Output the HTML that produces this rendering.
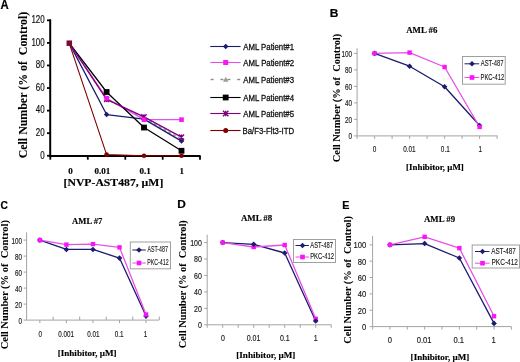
<!DOCTYPE html>
<html><head><meta charset="utf-8"><style>
html,body{margin:0;padding:0;background:#fff;}
body{width:520px;height:362px;overflow:hidden;}
svg{display:block;}
</style></head><body>
<svg width="520" height="362" viewBox="0 0 520 362">
<defs><filter id="b" x="0" y="0" width="100%" height="100%"><feGaussianBlur stdDeviation="0.4"/></filter></defs>
<rect width="520" height="362" fill="#fff"/>
<g filter="url(#b)">
<rect width="520" height="362" fill="#fff"/>
<text transform="translate(0.52 8.60) scale(0.9453 1)" font-family='"Liberation Sans", sans-serif' font-size="12" font-weight="bold" fill="#000" stroke="#000" stroke-width="0.2" xml:space="preserve" >A</text>
<line x1="50.20" y1="19.30" x2="50.20" y2="156.60" stroke="#000000" stroke-width="2" />
<line x1="49.20" y1="155.95" x2="200.60" y2="155.95" stroke="#000000" stroke-width="2" />
<line x1="47.00" y1="155.75" x2="50.20" y2="155.75" stroke="#000000" stroke-width="1.8" />
<text transform="translate(40.25 158.50) scale(0.7974 1)" font-family='"Liberation Sans", sans-serif' font-size="10.0" font-weight="normal" fill="#111" stroke="#111" stroke-width="0.18" xml:space="preserve" >0</text>
<line x1="47.00" y1="133.18" x2="50.20" y2="133.18" stroke="#000000" stroke-width="1.8" />
<text transform="translate(35.83 135.93) scale(0.7974 1)" font-family='"Liberation Sans", sans-serif' font-size="10.0" font-weight="normal" fill="#111" stroke="#111" stroke-width="0.18" xml:space="preserve" >20</text>
<line x1="47.00" y1="110.61" x2="50.20" y2="110.61" stroke="#000000" stroke-width="1.8" />
<text transform="translate(35.83 113.36) scale(0.7974 1)" font-family='"Liberation Sans", sans-serif' font-size="10.0" font-weight="normal" fill="#111" stroke="#111" stroke-width="0.18" xml:space="preserve" >40</text>
<line x1="47.00" y1="88.04" x2="50.20" y2="88.04" stroke="#000000" stroke-width="1.8" />
<text transform="translate(35.83 90.79) scale(0.7974 1)" font-family='"Liberation Sans", sans-serif' font-size="10.0" font-weight="normal" fill="#111" stroke="#111" stroke-width="0.18" xml:space="preserve" >60</text>
<line x1="47.00" y1="65.47" x2="50.20" y2="65.47" stroke="#000000" stroke-width="1.8" />
<text transform="translate(35.83 68.22) scale(0.7974 1)" font-family='"Liberation Sans", sans-serif' font-size="10.0" font-weight="normal" fill="#111" stroke="#111" stroke-width="0.18" xml:space="preserve" >80</text>
<line x1="47.00" y1="42.90" x2="50.20" y2="42.90" stroke="#000000" stroke-width="1.8" />
<text transform="translate(31.40 45.65) scale(0.7974 1)" font-family='"Liberation Sans", sans-serif' font-size="10.0" font-weight="normal" fill="#111" stroke="#111" stroke-width="0.18" xml:space="preserve" >100</text>
<line x1="47.00" y1="20.33" x2="50.20" y2="20.33" stroke="#000000" stroke-width="1.8" />
<text transform="translate(31.40 23.08) scale(0.7974 1)" font-family='"Liberation Sans", sans-serif' font-size="10.0" font-weight="normal" fill="#111" stroke="#111" stroke-width="0.18" xml:space="preserve" >120</text>
<line x1="50.30" y1="155.95" x2="50.30" y2="159.70" stroke="#000000" stroke-width="1.8" />
<line x1="87.80" y1="155.95" x2="87.80" y2="159.70" stroke="#000000" stroke-width="1.8" />
<line x1="125.30" y1="155.95" x2="125.30" y2="159.70" stroke="#000000" stroke-width="1.8" />
<line x1="162.70" y1="155.95" x2="162.70" y2="159.70" stroke="#000000" stroke-width="1.8" />
<line x1="200.00" y1="155.95" x2="200.00" y2="159.70" stroke="#000000" stroke-width="1.8" />
<text transform="translate(68.34 173.60) scale(1.1890 1)" font-family='"Liberation Serif", serif' font-size="7.6" font-weight="bold" fill="#000" stroke="#000" stroke-width="0.15" xml:space="preserve" >0</text>
<text transform="translate(94.44 173.60) scale(1.1890 1)" font-family='"Liberation Serif", serif' font-size="7.6" font-weight="bold" fill="#000" stroke="#000" stroke-width="0.15" xml:space="preserve" >0.01</text>
<text transform="translate(139.40 173.60) scale(1.1890 1)" font-family='"Liberation Serif", serif' font-size="7.6" font-weight="bold" fill="#000" stroke="#000" stroke-width="0.15" xml:space="preserve" >0.1</text>
<text transform="translate(179.41 173.60) scale(1.1890 1)" font-family='"Liberation Serif", serif' font-size="7.6" font-weight="bold" fill="#000" stroke="#000" stroke-width="0.15" xml:space="preserve" >1</text>
<text transform="translate(63.52 185.60) scale(1.0655 1)" font-family='"Liberation Serif", serif' font-size="11" font-weight="bold" fill="#000" stroke="#000" stroke-width="0.15" xml:space="preserve" >[NVP-AST487, µM]</text>
<text x="27.30" y="158.29" font-family='"Liberation Serif", serif' font-size="11.7" font-weight="bold" fill="#000" stroke="#000" stroke-width="0.05" textLength="146.51" lengthAdjust="spacingAndGlyphs" transform="rotate(-90 27.30 158.29)" xml:space="preserve">Cell Number (% of  Control)</text>
<polyline points="69.10,42.90 106.60,99.32 144.00,117.95 181.50,139.39" fill="none" stroke="#9a9a9a" stroke-width="1.3" stroke-linejoin="round" stroke-dasharray="3,2.5"/>
<polyline points="69.10,42.90 106.60,114.56 144.00,119.07 181.50,141.08" fill="none" stroke="#1a1a70" stroke-width="1.3" stroke-linejoin="round" />
<polyline points="69.10,42.90 106.60,98.20 144.00,119.64 181.50,119.64" fill="none" stroke="#e850e8" stroke-width="1.3" stroke-linejoin="round" />
<polyline points="69.10,42.90 106.60,91.99 144.00,127.54 181.50,150.78" fill="none" stroke="#000000" stroke-width="1.3" stroke-linejoin="round" />
<polyline points="69.10,42.90 106.60,99.32 144.00,116.82 181.50,137.13" fill="none" stroke="#800080" stroke-width="1.3" stroke-linejoin="round" />
<polyline points="69.10,42.90 106.60,154.62 144.00,155.75 181.50,155.75" fill="none" stroke="#800000" stroke-width="1.1" stroke-linejoin="round" />
<path d="M106.60,96.57 L109.35,101.52 L103.85,101.52Z" fill="#9a9a9a"/>
<path d="M144.00,115.20 L146.75,120.15 L141.25,120.15Z" fill="#9a9a9a"/>
<path d="M181.50,136.64 L184.25,141.59 L178.75,141.59Z" fill="#9a9a9a"/>
<path d="M106.60,111.81 L109.35,114.56 L106.60,117.31 L103.85,114.56Z" fill="#1a1a70"/>
<path d="M144.00,116.32 L146.75,119.07 L144.00,121.82 L141.25,119.07Z" fill="#1a1a70"/>
<path d="M181.50,138.33 L184.25,141.08 L181.50,143.83 L178.75,141.08Z" fill="#1a1a70"/>
<rect x="103.70" y="89.09" width="5.80" height="5.80" fill="#000000"/>
<rect x="141.10" y="124.64" width="5.80" height="5.80" fill="#000000"/>
<rect x="178.60" y="147.88" width="5.80" height="5.80" fill="#000000"/>
<path d="M104.00,96.72 L109.20,101.92 M109.20,96.72 L104.00,101.92 M106.60,96.72 L106.60,101.92" stroke="#800080" stroke-width="1.3" fill="none"/>
<path d="M141.40,114.22 L146.60,119.42 M146.60,114.22 L141.40,119.42 M144.00,114.22 L144.00,119.42" stroke="#800080" stroke-width="1.3" fill="none"/>
<path d="M178.90,134.53 L184.10,139.73 M184.10,134.53 L178.90,139.73 M181.50,134.53 L181.50,139.73" stroke="#800080" stroke-width="1.3" fill="none"/>
<rect x="104.30" y="95.90" width="4.60" height="4.60" fill="#f814f8"/>
<rect x="141.70" y="117.34" width="4.60" height="4.60" fill="#f814f8"/>
<rect x="179.20" y="117.34" width="4.60" height="4.60" fill="#f814f8"/>
<circle cx="106.60" cy="154.62" r="2.30" fill="#800000"/>
<circle cx="144.00" cy="155.75" r="2.30" fill="#800000"/>
<circle cx="181.50" cy="155.75" r="2.30" fill="#800000"/>
<rect x="66.55" y="40.45" width="5.50" height="5.50" fill="#7a0a2a"/>
<line x1="210.30" y1="46.50" x2="240.60" y2="46.50" stroke="#1a1a70" stroke-width="1.1" />
<path d="M225.70,43.70 L228.50,46.50 L225.70,49.30 L222.90,46.50Z" fill="#1a1a70"/>
<text transform="translate(243.20 49.60) scale(0.8683 1)" font-family='"Liberation Sans", sans-serif' font-size="9.0" font-weight="normal" fill="#111" stroke="#111" stroke-width="0.3" xml:space="preserve" >AML Patient#1</text>
<line x1="210.30" y1="62.50" x2="240.60" y2="62.50" stroke="#e850e8" stroke-width="1.1" />
<rect x="223.20" y="60.00" width="5.00" height="5.00" fill="#f814f8"/>
<text transform="translate(243.20 65.60) scale(0.8690 1)" font-family='"Liberation Sans", sans-serif' font-size="9.0" font-weight="normal" fill="#111" stroke="#111" stroke-width="0.3" xml:space="preserve" >AML Patient#2</text>
<line x1="210.60" y1="79.50" x2="213.60" y2="79.50" stroke="#8a8a8a" stroke-width="1.4" />
<line x1="220.40" y1="79.50" x2="223.40" y2="79.50" stroke="#8a8a8a" stroke-width="1.4" />
<line x1="227.40" y1="79.50" x2="230.40" y2="79.50" stroke="#8a8a8a" stroke-width="1.4" />
<line x1="237.20" y1="79.50" x2="240.20" y2="79.50" stroke="#8a8a8a" stroke-width="1.4" />
<path d="M225.70,76.80 L228.40,81.66 L223.00,81.66Z" fill="#9a9a9a"/>
<text transform="translate(243.20 82.60) scale(0.8676 1)" font-family='"Liberation Sans", sans-serif' font-size="9.0" font-weight="normal" fill="#111" stroke="#111" stroke-width="0.3" xml:space="preserve" >AML Patient#3</text>
<line x1="210.30" y1="97.50" x2="240.60" y2="97.50" stroke="#000000" stroke-width="1.1" />
<rect x="222.80" y="94.60" width="5.80" height="5.80" fill="#000000"/>
<text transform="translate(243.20 100.60) scale(0.8663 1)" font-family='"Liberation Sans", sans-serif' font-size="9.0" font-weight="normal" fill="#111" stroke="#111" stroke-width="0.3" xml:space="preserve" >AML Patient#4</text>
<line x1="210.30" y1="113.50" x2="240.60" y2="113.50" stroke="#800080" stroke-width="1.1" />
<path d="M222.95,110.75 L228.45,116.25 M228.45,110.75 L222.95,116.25 M225.70,110.75 L225.70,116.25" stroke="#800080" stroke-width="1.3" fill="none"/>
<text transform="translate(243.20 116.60) scale(0.8676 1)" font-family='"Liberation Sans", sans-serif' font-size="9.0" font-weight="normal" fill="#111" stroke="#111" stroke-width="0.3" xml:space="preserve" >AML Patient#5</text>
<line x1="210.30" y1="130.50" x2="240.60" y2="130.50" stroke="#800000" stroke-width="1.1" />
<circle cx="225.70" cy="130.50" r="2.50" fill="#800000"/>
<text transform="translate(242.58 133.60) scale(0.8670 1)" font-family='"Liberation Sans", sans-serif' font-size="9.0" font-weight="normal" fill="#111" stroke="#111" stroke-width="0.3" xml:space="preserve" >Ba/F3-Flt3-ITD</text>
<text transform="translate(329.82 17.20) scale(1.0879 1)" font-family='"Liberation Sans", sans-serif' font-size="11" font-weight="bold" fill="#000" stroke="#000" stroke-width="0.2" xml:space="preserve" >B</text>
<text transform="translate(406.21 33.30) scale(0.9624 1)" font-family='"Liberation Serif", serif' font-size="9.2" font-weight="bold" fill="#000" stroke="#000" stroke-width="0.15" xml:space="preserve" >AML #6</text>
<line x1="357.10" y1="48.30" x2="357.10" y2="135.90" stroke="#a4a4a4" stroke-width="1" />
<line x1="357.10" y1="135.90" x2="497.60" y2="135.90" stroke="#a4a4a4" stroke-width="1" />
<line x1="354.10" y1="135.90" x2="357.10" y2="135.90" stroke="#a4a4a4" stroke-width="1" />
<text transform="translate(348.57 139.35) scale(0.6600 1)" font-family='"Liberation Sans", sans-serif' font-size="9.7" font-weight="normal" fill="#1a1a1a" stroke="#1a1a1a" stroke-width="0.18" xml:space="preserve" >0</text>
<line x1="354.10" y1="119.40" x2="357.10" y2="119.40" stroke="#a4a4a4" stroke-width="1" />
<text transform="translate(345.02 122.85) scale(0.6600 1)" font-family='"Liberation Sans", sans-serif' font-size="9.7" font-weight="normal" fill="#1a1a1a" stroke="#1a1a1a" stroke-width="0.18" xml:space="preserve" >20</text>
<line x1="354.10" y1="102.90" x2="357.10" y2="102.90" stroke="#a4a4a4" stroke-width="1" />
<text transform="translate(345.02 106.35) scale(0.6600 1)" font-family='"Liberation Sans", sans-serif' font-size="9.7" font-weight="normal" fill="#1a1a1a" stroke="#1a1a1a" stroke-width="0.18" xml:space="preserve" >40</text>
<line x1="354.10" y1="86.40" x2="357.10" y2="86.40" stroke="#a4a4a4" stroke-width="1" />
<text transform="translate(345.02 89.85) scale(0.6600 1)" font-family='"Liberation Sans", sans-serif' font-size="9.7" font-weight="normal" fill="#1a1a1a" stroke="#1a1a1a" stroke-width="0.18" xml:space="preserve" >60</text>
<line x1="354.10" y1="69.90" x2="357.10" y2="69.90" stroke="#a4a4a4" stroke-width="1" />
<text transform="translate(345.02 73.35) scale(0.6600 1)" font-family='"Liberation Sans", sans-serif' font-size="9.7" font-weight="normal" fill="#1a1a1a" stroke="#1a1a1a" stroke-width="0.18" xml:space="preserve" >80</text>
<line x1="354.10" y1="53.40" x2="357.10" y2="53.40" stroke="#a4a4a4" stroke-width="1" />
<text transform="translate(341.46 56.85) scale(0.6600 1)" font-family='"Liberation Sans", sans-serif' font-size="9.7" font-weight="normal" fill="#1a1a1a" stroke="#1a1a1a" stroke-width="0.18" xml:space="preserve" >100</text>
<line x1="357.10" y1="135.90" x2="357.10" y2="138.90" stroke="#a4a4a4" stroke-width="1" />
<line x1="374.60" y1="135.90" x2="374.60" y2="138.90" stroke="#a4a4a4" stroke-width="1" />
<line x1="392.10" y1="135.90" x2="392.10" y2="138.90" stroke="#a4a4a4" stroke-width="1" />
<line x1="409.60" y1="135.90" x2="409.60" y2="138.90" stroke="#a4a4a4" stroke-width="1" />
<line x1="427.10" y1="135.90" x2="427.10" y2="138.90" stroke="#a4a4a4" stroke-width="1" />
<line x1="444.60" y1="135.90" x2="444.60" y2="138.90" stroke="#a4a4a4" stroke-width="1" />
<line x1="462.10" y1="135.90" x2="462.10" y2="138.90" stroke="#a4a4a4" stroke-width="1" />
<line x1="479.60" y1="135.90" x2="479.60" y2="138.90" stroke="#a4a4a4" stroke-width="1" />
<line x1="497.10" y1="135.90" x2="497.10" y2="138.90" stroke="#a4a4a4" stroke-width="1" />
<text transform="translate(372.81 152.10) scale(0.6600 1)" font-family='"Liberation Sans", sans-serif' font-size="9.7" font-weight="normal" fill="#1a1a1a" stroke="#1a1a1a" stroke-width="0.18" xml:space="preserve" >0</text>
<text transform="translate(403.19 152.10) scale(0.6600 1)" font-family='"Liberation Sans", sans-serif' font-size="9.7" font-weight="normal" fill="#1a1a1a" stroke="#1a1a1a" stroke-width="0.18" xml:space="preserve" >0.01</text>
<text transform="translate(440.87 152.10) scale(0.6600 1)" font-family='"Liberation Sans", sans-serif' font-size="9.7" font-weight="normal" fill="#1a1a1a" stroke="#1a1a1a" stroke-width="0.18" xml:space="preserve" >0.1</text>
<text transform="translate(478.53 152.10) scale(0.6600 1)" font-family='"Liberation Sans", sans-serif' font-size="9.7" font-weight="normal" fill="#1a1a1a" stroke="#1a1a1a" stroke-width="0.18" xml:space="preserve" >1</text>
<text transform="translate(406.03 170.00) scale(0.9711 1)" font-family='"Liberation Serif", serif' font-size="9.2" font-weight="bold" fill="#000" stroke="#000" stroke-width="0.15" xml:space="preserve" >[Inhibitor, µM]</text>
<text x="339.80" y="162.22" font-family='"Liberation Serif", serif' font-size="9.4" font-weight="bold" fill="#000" stroke="#000" stroke-width="0.05" textLength="128.47" lengthAdjust="spacingAndGlyphs" transform="rotate(-90 339.80 162.22)" xml:space="preserve">Cell Number (% of  Control)</text>
<polyline points="374.60,53.40 409.60,66.19 444.60,86.81 479.60,125.51" fill="none" stroke="#1a1a70" stroke-width="1.3" stroke-linejoin="round" />
<polyline points="374.60,53.40 409.60,52.58 444.60,67.01 479.60,126.99" fill="none" stroke="#e850e8" stroke-width="1.3" stroke-linejoin="round" />
<path d="M374.60,50.60 L377.40,53.40 L374.60,56.20 L371.80,53.40Z" fill="#1a1a70"/>
<rect x="372.40" y="51.20" width="4.40" height="4.40" fill="#f814f8"/>
<path d="M409.60,63.39 L412.40,66.19 L409.60,68.99 L406.80,66.19Z" fill="#1a1a70"/>
<rect x="407.40" y="50.38" width="4.40" height="4.40" fill="#f814f8"/>
<path d="M444.60,84.01 L447.40,86.81 L444.60,89.61 L441.80,86.81Z" fill="#1a1a70"/>
<rect x="442.40" y="64.81" width="4.40" height="4.40" fill="#f814f8"/>
<path d="M479.60,122.71 L482.40,125.51 L479.60,128.31 L476.80,125.51Z" fill="#1a1a70"/>
<rect x="477.40" y="124.79" width="4.40" height="4.40" fill="#f814f8"/>
<rect x="462.50" y="56.50" width="42.70" height="27.70" fill="#fff" stroke="#a0a0a0" stroke-width="1"/>
<line x1="464.50" y1="63.80" x2="479.20" y2="63.80" stroke="#1a1a70" stroke-width="1.0" />
<path d="M472.00,61.00 L474.80,63.80 L472.00,66.60 L469.20,63.80Z" fill="#1a1a70"/>
<text transform="translate(480.80 65.60) scale(0.6783 1)" font-family='"Liberation Sans", sans-serif' font-size="8.6" font-weight="normal" fill="#111" stroke="#111" stroke-width="0.1" xml:space="preserve" >AST-487</text>
<line x1="464.50" y1="77.50" x2="479.20" y2="77.50" stroke="#e850e8" stroke-width="1.0" />
<rect x="469.70" y="75.20" width="4.60" height="4.60" fill="#f814f8"/>
<text transform="translate(480.53 79.60) scale(0.6814 1)" font-family='"Liberation Sans", sans-serif' font-size="8.6" font-weight="normal" fill="#111" stroke="#111" stroke-width="0.1" xml:space="preserve" >PKC-412</text>
<text transform="translate(0.39 208.60) scale(0.9299 1)" font-family='"Liberation Sans", sans-serif' font-size="11" font-weight="bold" fill="#000" stroke="#000" stroke-width="0.2" xml:space="preserve" >C</text>
<text transform="translate(72.01 223.70) scale(0.9392 1)" font-family='"Liberation Serif", serif' font-size="9.2" font-weight="bold" fill="#000" stroke="#000" stroke-width="0.15" xml:space="preserve" >AML #7</text>
<line x1="26.60" y1="232.30" x2="26.60" y2="320.10" stroke="#a4a4a4" stroke-width="1" />
<line x1="26.60" y1="320.10" x2="159.00" y2="320.10" stroke="#a4a4a4" stroke-width="1" />
<line x1="23.60" y1="320.10" x2="26.60" y2="320.10" stroke="#a4a4a4" stroke-width="1" />
<text transform="translate(18.52 323.55) scale(0.6500 1)" font-family='"Liberation Sans", sans-serif' font-size="9.7" font-weight="normal" fill="#1a1a1a" stroke="#1a1a1a" stroke-width="0.18" xml:space="preserve" >0</text>
<line x1="23.60" y1="304.10" x2="26.60" y2="304.10" stroke="#a4a4a4" stroke-width="1" />
<text transform="translate(15.02 307.55) scale(0.6500 1)" font-family='"Liberation Sans", sans-serif' font-size="9.7" font-weight="normal" fill="#1a1a1a" stroke="#1a1a1a" stroke-width="0.18" xml:space="preserve" >20</text>
<line x1="23.60" y1="288.10" x2="26.60" y2="288.10" stroke="#a4a4a4" stroke-width="1" />
<text transform="translate(15.02 291.55) scale(0.6500 1)" font-family='"Liberation Sans", sans-serif' font-size="9.7" font-weight="normal" fill="#1a1a1a" stroke="#1a1a1a" stroke-width="0.18" xml:space="preserve" >40</text>
<line x1="23.60" y1="272.10" x2="26.60" y2="272.10" stroke="#a4a4a4" stroke-width="1" />
<text transform="translate(15.02 275.55) scale(0.6500 1)" font-family='"Liberation Sans", sans-serif' font-size="9.7" font-weight="normal" fill="#1a1a1a" stroke="#1a1a1a" stroke-width="0.18" xml:space="preserve" >60</text>
<line x1="23.60" y1="256.10" x2="26.60" y2="256.10" stroke="#a4a4a4" stroke-width="1" />
<text transform="translate(15.02 259.55) scale(0.6500 1)" font-family='"Liberation Sans", sans-serif' font-size="9.7" font-weight="normal" fill="#1a1a1a" stroke="#1a1a1a" stroke-width="0.18" xml:space="preserve" >80</text>
<line x1="23.60" y1="240.10" x2="26.60" y2="240.10" stroke="#a4a4a4" stroke-width="1" />
<text transform="translate(11.52 243.55) scale(0.6500 1)" font-family='"Liberation Sans", sans-serif' font-size="9.7" font-weight="normal" fill="#1a1a1a" stroke="#1a1a1a" stroke-width="0.18" xml:space="preserve" >100</text>
<line x1="39.87" y1="320.10" x2="39.87" y2="323.10" stroke="#a4a4a4" stroke-width="1" />
<line x1="53.14" y1="320.10" x2="53.14" y2="316.60" stroke="#a4a4a4" stroke-width="1" />
<line x1="66.41" y1="320.10" x2="66.41" y2="323.10" stroke="#a4a4a4" stroke-width="1" />
<line x1="79.68" y1="320.10" x2="79.68" y2="316.60" stroke="#a4a4a4" stroke-width="1" />
<line x1="92.95" y1="320.10" x2="92.95" y2="323.10" stroke="#a4a4a4" stroke-width="1" />
<line x1="106.22" y1="320.10" x2="106.22" y2="316.60" stroke="#a4a4a4" stroke-width="1" />
<line x1="119.49" y1="320.10" x2="119.49" y2="323.10" stroke="#a4a4a4" stroke-width="1" />
<line x1="132.76" y1="320.10" x2="132.76" y2="316.60" stroke="#a4a4a4" stroke-width="1" />
<line x1="146.03" y1="320.10" x2="146.03" y2="323.10" stroke="#a4a4a4" stroke-width="1" />
<line x1="159.30" y1="320.10" x2="159.30" y2="316.60" stroke="#a4a4a4" stroke-width="1" />
<text transform="translate(38.43 337.00) scale(0.6500 1)" font-family='"Liberation Sans", sans-serif' font-size="9.7" font-weight="normal" fill="#1a1a1a" stroke="#1a1a1a" stroke-width="0.18" xml:space="preserve" >0</text>
<text transform="translate(58.33 337.00) scale(0.6500 1)" font-family='"Liberation Sans", sans-serif' font-size="9.7" font-weight="normal" fill="#1a1a1a" stroke="#1a1a1a" stroke-width="0.18" xml:space="preserve" >0.001</text>
<text transform="translate(87.18 337.00) scale(0.6500 1)" font-family='"Liberation Sans", sans-serif' font-size="9.7" font-weight="normal" fill="#1a1a1a" stroke="#1a1a1a" stroke-width="0.18" xml:space="preserve" >0.01</text>
<text transform="translate(114.83 337.00) scale(0.6500 1)" font-family='"Liberation Sans", sans-serif' font-size="9.7" font-weight="normal" fill="#1a1a1a" stroke="#1a1a1a" stroke-width="0.18" xml:space="preserve" >0.1</text>
<text transform="translate(143.66 337.00) scale(0.6500 1)" font-family='"Liberation Sans", sans-serif' font-size="9.7" font-weight="normal" fill="#1a1a1a" stroke="#1a1a1a" stroke-width="0.18" xml:space="preserve" >1</text>
<text transform="translate(57.72 355.90) scale(0.9883 1)" font-family='"Liberation Serif", serif' font-size="9.2" font-weight="bold" fill="#000" stroke="#000" stroke-width="0.15" xml:space="preserve" >[Inhibitor, µM]</text>
<text x="8.00" y="349.32" font-family='"Liberation Serif", serif' font-size="9.4" font-weight="bold" fill="#000" stroke="#000" stroke-width="0.05" textLength="129.28" lengthAdjust="spacingAndGlyphs" transform="rotate(-90 8.00 349.32)" xml:space="preserve">Cell Number (% of  Control)</text>
<polyline points="39.87,240.10 66.41,249.46 92.95,249.46 119.49,258.10 146.03,316.10" fill="none" stroke="#1a1a70" stroke-width="1.3" stroke-linejoin="round" />
<polyline points="39.87,240.10 66.41,244.66 92.95,244.10 119.49,247.38 146.03,314.50" fill="none" stroke="#e850e8" stroke-width="1.3" stroke-linejoin="round" />
<path d="M39.87,237.30 L42.67,240.10 L39.87,242.90 L37.07,240.10Z" fill="#1a1a70"/>
<rect x="37.67" y="237.90" width="4.40" height="4.40" fill="#f814f8"/>
<path d="M66.41,246.66 L69.21,249.46 L66.41,252.26 L63.61,249.46Z" fill="#1a1a70"/>
<rect x="64.21" y="242.46" width="4.40" height="4.40" fill="#f814f8"/>
<path d="M92.95,246.66 L95.75,249.46 L92.95,252.26 L90.15,249.46Z" fill="#1a1a70"/>
<rect x="90.75" y="241.90" width="4.40" height="4.40" fill="#f814f8"/>
<path d="M119.49,255.30 L122.29,258.10 L119.49,260.90 L116.69,258.10Z" fill="#1a1a70"/>
<rect x="117.29" y="245.18" width="4.40" height="4.40" fill="#f814f8"/>
<path d="M146.03,313.30 L148.83,316.10 L146.03,318.90 L143.23,316.10Z" fill="#1a1a70"/>
<rect x="143.83" y="312.30" width="4.40" height="4.40" fill="#f814f8"/>
<rect x="130.30" y="242.00" width="40.20" height="26.80" fill="#fff" stroke="#a0a0a0" stroke-width="1"/>
<line x1="132.30" y1="250.00" x2="145.80" y2="250.00" stroke="#1a1a70" stroke-width="1.0" />
<path d="M139.00,247.20 L141.80,250.00 L139.00,252.80 L136.20,250.00Z" fill="#1a1a70"/>
<text transform="translate(147.40 252.00) scale(0.6117 1)" font-family='"Liberation Sans", sans-serif' font-size="8.6" font-weight="normal" fill="#111" stroke="#111" stroke-width="0.1" xml:space="preserve" >AST-487</text>
<line x1="132.30" y1="263.00" x2="145.80" y2="263.00" stroke="#e850e8" stroke-width="1.0" />
<rect x="136.70" y="260.70" width="4.60" height="4.60" fill="#f814f8"/>
<text transform="translate(147.18 265.00) scale(0.6162 1)" font-family='"Liberation Sans", sans-serif' font-size="8.6" font-weight="normal" fill="#111" stroke="#111" stroke-width="0.1" xml:space="preserve" >PKC-412</text>
<text transform="translate(177.23 208.20) scale(1.0791 1)" font-family='"Liberation Sans", sans-serif' font-size="11" font-weight="bold" fill="#000" stroke="#000" stroke-width="0.2" xml:space="preserve" >D</text>
<text transform="translate(240.91 221.30) scale(0.9669 1)" font-family='"Liberation Serif", serif' font-size="9.2" font-weight="bold" fill="#000" stroke="#000" stroke-width="0.15" xml:space="preserve" >AML #8</text>
<line x1="207.20" y1="234.70" x2="207.20" y2="324.80" stroke="#a4a4a4" stroke-width="1" />
<line x1="207.20" y1="324.80" x2="331.40" y2="324.80" stroke="#a4a4a4" stroke-width="1" />
<line x1="204.20" y1="324.80" x2="207.20" y2="324.80" stroke="#a4a4a4" stroke-width="1" />
<text transform="translate(197.94 328.25) scale(0.7250 1)" font-family='"Liberation Sans", sans-serif' font-size="9.7" font-weight="normal" fill="#1a1a1a" stroke="#1a1a1a" stroke-width="0.18" xml:space="preserve" >0</text>
<line x1="204.20" y1="308.35" x2="207.20" y2="308.35" stroke="#a4a4a4" stroke-width="1" />
<text transform="translate(194.04 311.80) scale(0.7250 1)" font-family='"Liberation Sans", sans-serif' font-size="9.7" font-weight="normal" fill="#1a1a1a" stroke="#1a1a1a" stroke-width="0.18" xml:space="preserve" >20</text>
<line x1="204.20" y1="291.90" x2="207.20" y2="291.90" stroke="#a4a4a4" stroke-width="1" />
<text transform="translate(194.04 295.35) scale(0.7250 1)" font-family='"Liberation Sans", sans-serif' font-size="9.7" font-weight="normal" fill="#1a1a1a" stroke="#1a1a1a" stroke-width="0.18" xml:space="preserve" >40</text>
<line x1="204.20" y1="275.45" x2="207.20" y2="275.45" stroke="#a4a4a4" stroke-width="1" />
<text transform="translate(194.04 278.90) scale(0.7250 1)" font-family='"Liberation Sans", sans-serif' font-size="9.7" font-weight="normal" fill="#1a1a1a" stroke="#1a1a1a" stroke-width="0.18" xml:space="preserve" >60</text>
<line x1="204.20" y1="259.00" x2="207.20" y2="259.00" stroke="#a4a4a4" stroke-width="1" />
<text transform="translate(194.04 262.45) scale(0.7250 1)" font-family='"Liberation Sans", sans-serif' font-size="9.7" font-weight="normal" fill="#1a1a1a" stroke="#1a1a1a" stroke-width="0.18" xml:space="preserve" >80</text>
<line x1="204.20" y1="242.55" x2="207.20" y2="242.55" stroke="#a4a4a4" stroke-width="1" />
<text transform="translate(190.14 246.00) scale(0.7250 1)" font-family='"Liberation Sans", sans-serif' font-size="9.7" font-weight="normal" fill="#1a1a1a" stroke="#1a1a1a" stroke-width="0.18" xml:space="preserve" >100</text>
<line x1="207.20" y1="324.80" x2="207.20" y2="327.80" stroke="#a4a4a4" stroke-width="1" />
<line x1="222.70" y1="324.80" x2="222.70" y2="327.80" stroke="#a4a4a4" stroke-width="1" />
<line x1="238.20" y1="324.80" x2="238.20" y2="327.80" stroke="#a4a4a4" stroke-width="1" />
<line x1="253.70" y1="324.80" x2="253.70" y2="327.80" stroke="#a4a4a4" stroke-width="1" />
<line x1="269.20" y1="324.80" x2="269.20" y2="327.80" stroke="#a4a4a4" stroke-width="1" />
<line x1="284.70" y1="324.80" x2="284.70" y2="327.80" stroke="#a4a4a4" stroke-width="1" />
<line x1="300.20" y1="324.80" x2="300.20" y2="327.80" stroke="#a4a4a4" stroke-width="1" />
<line x1="315.70" y1="324.80" x2="315.70" y2="327.80" stroke="#a4a4a4" stroke-width="1" />
<line x1="331.20" y1="324.80" x2="331.20" y2="327.80" stroke="#a4a4a4" stroke-width="1" />
<text transform="translate(220.93 340.80) scale(0.7250 1)" font-family='"Liberation Sans", sans-serif' font-size="9.7" font-weight="normal" fill="#1a1a1a" stroke="#1a1a1a" stroke-width="0.18" xml:space="preserve" >0</text>
<text transform="translate(246.68 340.80) scale(0.7250 1)" font-family='"Liberation Sans", sans-serif' font-size="9.7" font-weight="normal" fill="#1a1a1a" stroke="#1a1a1a" stroke-width="0.18" xml:space="preserve" >0.01</text>
<text transform="translate(279.93 340.80) scale(0.7250 1)" font-family='"Liberation Sans", sans-serif' font-size="9.7" font-weight="normal" fill="#1a1a1a" stroke="#1a1a1a" stroke-width="0.18" xml:space="preserve" >0.1</text>
<text transform="translate(313.74 340.80) scale(0.7250 1)" font-family='"Liberation Sans", sans-serif' font-size="9.7" font-weight="normal" fill="#1a1a1a" stroke="#1a1a1a" stroke-width="0.18" xml:space="preserve" >1</text>
<text transform="translate(236.21 358.40) scale(0.9934 1)" font-family='"Liberation Serif", serif' font-size="9.2" font-weight="bold" fill="#000" stroke="#000" stroke-width="0.15" xml:space="preserve" >[Inhibitor, µM]</text>
<text x="185.60" y="348.32" font-family='"Liberation Serif", serif' font-size="9.4" font-weight="bold" fill="#000" stroke="#000" stroke-width="0.05" textLength="128.07" lengthAdjust="spacingAndGlyphs" transform="rotate(-90 185.60 348.32)" xml:space="preserve">Cell Number (% of  Control)</text>
<polyline points="222.70,242.55 253.70,244.28 284.70,253.00 315.70,321.02" fill="none" stroke="#1a1a70" stroke-width="1.3" stroke-linejoin="round" />
<polyline points="222.70,242.55 253.70,246.99 284.70,245.02 315.70,318.80" fill="none" stroke="#e850e8" stroke-width="1.3" stroke-linejoin="round" />
<path d="M222.70,239.75 L225.50,242.55 L222.70,245.35 L219.90,242.55Z" fill="#1a1a70"/>
<rect x="220.50" y="240.35" width="4.40" height="4.40" fill="#f814f8"/>
<rect x="251.50" y="244.79" width="4.40" height="4.40" fill="#f814f8"/>
<path d="M253.70,241.48 L256.50,244.28 L253.70,247.08 L250.90,244.28Z" fill="#1a1a70"/>
<path d="M284.70,250.20 L287.50,253.00 L284.70,255.80 L281.90,253.00Z" fill="#1a1a70"/>
<rect x="282.50" y="242.82" width="4.40" height="4.40" fill="#f814f8"/>
<rect x="313.50" y="316.60" width="4.40" height="4.40" fill="#f814f8"/>
<path d="M315.70,318.22 L318.50,321.02 L315.70,323.82 L312.90,321.02Z" fill="#1a1a70"/>
<rect x="293.50" y="239.50" width="42.00" height="23.00" fill="#fff" stroke="#a0a0a0" stroke-width="1"/>
<line x1="295.50" y1="245.50" x2="309.00" y2="245.50" stroke="#1a1a70" stroke-width="1.0" />
<path d="M302.50,242.70 L305.30,245.50 L302.50,248.30 L299.70,245.50Z" fill="#1a1a70"/>
<text transform="translate(310.30 247.60) scale(0.6813 1)" font-family='"Liberation Sans", sans-serif' font-size="8.6" font-weight="normal" fill="#111" stroke="#111" stroke-width="0.1" xml:space="preserve" >AST-487</text>
<line x1="295.50" y1="257.00" x2="309.00" y2="257.00" stroke="#e850e8" stroke-width="1.0" />
<rect x="300.20" y="254.70" width="4.60" height="4.60" fill="#f814f8"/>
<text transform="translate(310.13 258.90) scale(0.6873 1)" font-family='"Liberation Sans", sans-serif' font-size="8.6" font-weight="normal" fill="#111" stroke="#111" stroke-width="0.1" xml:space="preserve" >PKC-412</text>
<text transform="translate(342.30 209.00) scale(0.9815 1)" font-family='"Liberation Sans", sans-serif' font-size="11" font-weight="bold" fill="#000" stroke="#000" stroke-width="0.2" xml:space="preserve" >E</text>
<text transform="translate(423.91 221.70) scale(0.9606 1)" font-family='"Liberation Serif", serif' font-size="9.2" font-weight="bold" fill="#000" stroke="#000" stroke-width="0.15" xml:space="preserve" >AML #9</text>
<line x1="372.60" y1="235.90" x2="372.60" y2="326.60" stroke="#a4a4a4" stroke-width="1" />
<line x1="372.60" y1="326.60" x2="511.40" y2="326.60" stroke="#a4a4a4" stroke-width="1" />
<line x1="369.60" y1="326.60" x2="372.60" y2="326.60" stroke="#a4a4a4" stroke-width="1" />
<text transform="translate(361.94 330.05) scale(0.7850 1)" font-family='"Liberation Sans", sans-serif' font-size="9.7" font-weight="normal" fill="#1a1a1a" stroke="#1a1a1a" stroke-width="0.18" xml:space="preserve" >0</text>
<line x1="369.60" y1="310.25" x2="372.60" y2="310.25" stroke="#a4a4a4" stroke-width="1" />
<text transform="translate(357.71 313.70) scale(0.7850 1)" font-family='"Liberation Sans", sans-serif' font-size="9.7" font-weight="normal" fill="#1a1a1a" stroke="#1a1a1a" stroke-width="0.18" xml:space="preserve" >20</text>
<line x1="369.60" y1="293.90" x2="372.60" y2="293.90" stroke="#a4a4a4" stroke-width="1" />
<text transform="translate(357.71 297.35) scale(0.7850 1)" font-family='"Liberation Sans", sans-serif' font-size="9.7" font-weight="normal" fill="#1a1a1a" stroke="#1a1a1a" stroke-width="0.18" xml:space="preserve" >40</text>
<line x1="369.60" y1="277.55" x2="372.60" y2="277.55" stroke="#a4a4a4" stroke-width="1" />
<text transform="translate(357.71 281.00) scale(0.7850 1)" font-family='"Liberation Sans", sans-serif' font-size="9.7" font-weight="normal" fill="#1a1a1a" stroke="#1a1a1a" stroke-width="0.18" xml:space="preserve" >60</text>
<line x1="369.60" y1="261.20" x2="372.60" y2="261.20" stroke="#a4a4a4" stroke-width="1" />
<text transform="translate(357.71 264.65) scale(0.7850 1)" font-family='"Liberation Sans", sans-serif' font-size="9.7" font-weight="normal" fill="#1a1a1a" stroke="#1a1a1a" stroke-width="0.18" xml:space="preserve" >80</text>
<line x1="369.60" y1="244.85" x2="372.60" y2="244.85" stroke="#a4a4a4" stroke-width="1" />
<text transform="translate(353.49 248.30) scale(0.7850 1)" font-family='"Liberation Sans", sans-serif' font-size="9.7" font-weight="normal" fill="#1a1a1a" stroke="#1a1a1a" stroke-width="0.18" xml:space="preserve" >100</text>
<line x1="372.60" y1="326.60" x2="372.60" y2="329.60" stroke="#a4a4a4" stroke-width="1" />
<line x1="389.95" y1="326.60" x2="389.95" y2="329.60" stroke="#a4a4a4" stroke-width="1" />
<line x1="407.30" y1="326.60" x2="407.30" y2="329.60" stroke="#a4a4a4" stroke-width="1" />
<line x1="424.65" y1="326.60" x2="424.65" y2="329.60" stroke="#a4a4a4" stroke-width="1" />
<line x1="442.00" y1="326.60" x2="442.00" y2="329.60" stroke="#a4a4a4" stroke-width="1" />
<line x1="459.35" y1="326.60" x2="459.35" y2="329.60" stroke="#a4a4a4" stroke-width="1" />
<line x1="476.70" y1="326.60" x2="476.70" y2="329.60" stroke="#a4a4a4" stroke-width="1" />
<line x1="494.05" y1="326.60" x2="494.05" y2="329.60" stroke="#a4a4a4" stroke-width="1" />
<line x1="511.40" y1="326.60" x2="511.40" y2="329.60" stroke="#a4a4a4" stroke-width="1" />
<text transform="translate(387.67 343.20) scale(0.7850 1)" font-family='"Liberation Sans", sans-serif' font-size="9.7" font-weight="normal" fill="#1a1a1a" stroke="#1a1a1a" stroke-width="0.18" xml:space="preserve" >0</text>
<text transform="translate(416.71 343.20) scale(0.7850 1)" font-family='"Liberation Sans", sans-serif' font-size="9.7" font-weight="normal" fill="#1a1a1a" stroke="#1a1a1a" stroke-width="0.18" xml:space="preserve" >0.01</text>
<text transform="translate(453.43 343.20) scale(0.7850 1)" font-family='"Liberation Sans", sans-serif' font-size="9.7" font-weight="normal" fill="#1a1a1a" stroke="#1a1a1a" stroke-width="0.18" xml:space="preserve" >0.1</text>
<text transform="translate(491.47 343.20) scale(0.7850 1)" font-family='"Liberation Sans", sans-serif' font-size="9.7" font-weight="normal" fill="#1a1a1a" stroke="#1a1a1a" stroke-width="0.18" xml:space="preserve" >1</text>
<text transform="translate(410.62 360.20) scale(0.9849 1)" font-family='"Liberation Serif", serif' font-size="9.2" font-weight="bold" fill="#000" stroke="#000" stroke-width="0.15" xml:space="preserve" >[Inhibitor, µM]</text>
<text x="350.70" y="343.82" font-family='"Liberation Serif", serif' font-size="9.4" font-weight="bold" fill="#000" stroke="#000" stroke-width="0.05" textLength="127.76" lengthAdjust="spacingAndGlyphs" transform="rotate(-90 350.70 343.82)" xml:space="preserve">Cell Number (% of  Control)</text>
<polyline points="389.95,244.85 424.65,243.54 459.35,258.01 494.05,323.41" fill="none" stroke="#1a1a70" stroke-width="1.3" stroke-linejoin="round" />
<polyline points="389.95,244.85 424.65,236.84 459.35,248.12 494.05,316.22" fill="none" stroke="#e850e8" stroke-width="1.3" stroke-linejoin="round" />
<path d="M389.95,242.05 L392.75,244.85 L389.95,247.65 L387.15,244.85Z" fill="#1a1a70"/>
<rect x="387.75" y="242.65" width="4.40" height="4.40" fill="#f814f8"/>
<path d="M424.65,240.74 L427.45,243.54 L424.65,246.34 L421.85,243.54Z" fill="#1a1a70"/>
<rect x="422.45" y="234.64" width="4.40" height="4.40" fill="#f814f8"/>
<path d="M459.35,255.21 L462.15,258.01 L459.35,260.81 L456.55,258.01Z" fill="#1a1a70"/>
<rect x="457.15" y="245.92" width="4.40" height="4.40" fill="#f814f8"/>
<path d="M494.05,320.61 L496.85,323.41 L494.05,326.21 L491.25,323.41Z" fill="#1a1a70"/>
<rect x="491.85" y="314.02" width="4.40" height="4.40" fill="#f814f8"/>
<rect x="472.20" y="245.00" width="47.30" height="23.00" fill="#fff" stroke="#a0a0a0" stroke-width="1"/>
<line x1="475.00" y1="251.50" x2="489.50" y2="251.50" stroke="#1a1a70" stroke-width="1.0" />
<path d="M482.50,248.70 L485.30,251.50 L482.50,254.30 L479.70,251.50Z" fill="#1a1a70"/>
<text transform="translate(491.20 253.70) scale(0.7358 1)" font-family='"Liberation Sans", sans-serif' font-size="8.6" font-weight="normal" fill="#111" stroke="#111" stroke-width="0.1" xml:space="preserve" >AST-487</text>
<line x1="475.00" y1="263.20" x2="489.50" y2="263.20" stroke="#e850e8" stroke-width="1.0" />
<rect x="480.20" y="260.90" width="4.60" height="4.60" fill="#f814f8"/>
<text transform="translate(491.48 265.40) scale(0.7614 1)" font-family='"Liberation Sans", sans-serif' font-size="8.6" font-weight="normal" fill="#111" stroke="#111" stroke-width="0.1" xml:space="preserve" >PKC-412</text>
</g>
</svg>
</body></html>
